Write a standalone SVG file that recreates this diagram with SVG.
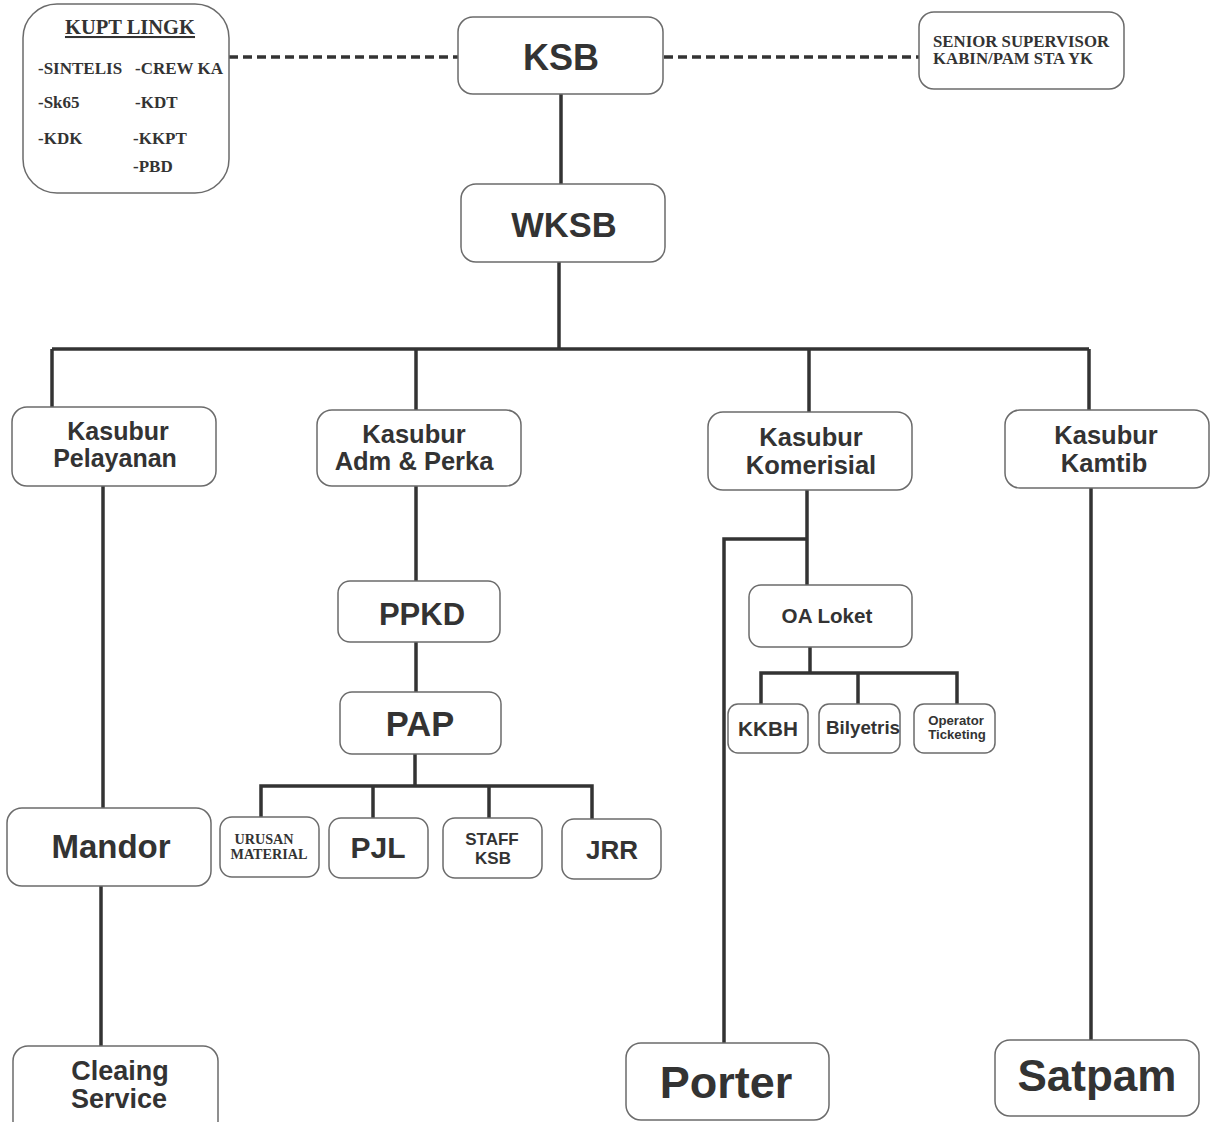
<svg xmlns="http://www.w3.org/2000/svg" width="1216" height="1122" viewBox="0 0 1216 1122">
<style>
.box{fill:#fff;stroke:#6b6b6b;stroke-width:1.5}
.ln{stroke:#333;stroke-width:3.5;fill:none}
.dash{stroke:#333;stroke-width:3.5;fill:none;stroke-dasharray:9 5}
.a{font-family:"Liberation Sans",Arial,sans-serif;font-weight:bold;fill:#333;text-anchor:middle}
.t{font-family:"Liberation Serif","Times New Roman",serif;font-weight:bold;fill:#333}
</style>
<rect width="1216" height="1122" fill="#fff"/>
<g id="connectors">
<path class="dash" d="M229 57H458"/>
<path class="dash" d="M664 57H919"/>
<path class="ln" d="M561 94V184"/>
<path class="ln" d="M559 262V349"/>
<path class="ln" d="M52 349H1089"/>
<path class="ln" d="M52 349V407"/>
<path class="ln" d="M416 349V410"/>
<path class="ln" d="M809 349V412"/>
<path class="ln" d="M1089 349V410"/>
<path class="ln" d="M103 486V808"/>
<path class="ln" d="M101 886V1046"/>
<path class="ln" d="M416 486V581"/>
<path class="ln" d="M416 642V692"/>
<path class="ln" d="M415 754V786"/>
<path class="ln" d="M261 817V786H592V819"/>
<path class="ln" d="M373 786V818"/>
<path class="ln" d="M489 786V818"/>
<path class="ln" d="M807 490V585"/>
<path class="ln" d="M807 539H724V1043"/>
<path class="ln" d="M810 647V673"/>
<path class="ln" d="M761 704V673H957V704"/>
<path class="ln" d="M858 673V704"/>
<path class="ln" d="M1091 488V1040"/>
</g>
<g id="kupt">
<rect class="box" x="23" y="4" width="206" height="189" rx="34"/>
<text class="t" x="130" y="34" font-size="20.5" text-anchor="middle" text-decoration="underline">KUPT LINGK</text>
<text class="t" x="38" y="74" font-size="17">-SINTELIS</text>
<text class="t" x="135" y="74" font-size="17">-CREW KA</text>
<text class="t" x="38" y="108" font-size="17">-Sk65</text>
<text class="t" x="135" y="108" font-size="17">-KDT</text>
<text class="t" x="38" y="144" font-size="17">-KDK</text>
<text class="t" x="133" y="144" font-size="17">-KKPT</text>
<text class="t" x="133" y="172" font-size="17">-PBD</text>
</g>
<g id="ksb">
<rect class="box" x="458" y="17" width="205" height="77" rx="15"/>
<text class="a" x="561" y="70" font-size="36">KSB</text>
</g>
<g id="senior">
<rect class="box" x="919" y="12" width="205" height="77" rx="15"/>
<text class="t" x="933" y="47" font-size="16.8">SENIOR SUPERVISOR</text>
<text class="t" x="933" y="64" font-size="16.8">KABIN/PAM STA YK</text>
</g>
<g id="wksb">
<rect class="box" x="461" y="184" width="204" height="78" rx="15"/>
<text class="a" x="564" y="237" font-size="34.5">WKSB</text>
</g>
<g id="pelayanan">
<rect class="box" x="12" y="407" width="204" height="79" rx="15"/>
<text class="a" x="118" y="440" font-size="25">Kasubur</text>
<text class="a" x="115" y="467" font-size="25">Pelayanan</text>
</g>
<g id="adm">
<rect class="box" x="317" y="410" width="204" height="76" rx="15"/>
<text class="a" x="414" y="443" font-size="25.5">Kasubur</text>
<text class="a" x="414" y="470" font-size="25.5">Adm &amp; Perka</text>
</g>
<g id="komerisial">
<rect class="box" x="708" y="412" width="204" height="78" rx="15"/>
<text class="a" x="811" y="446" font-size="25.5">Kasubur</text>
<text class="a" x="811" y="474" font-size="25.5">Komerisial</text>
</g>
<g id="kamtib">
<rect class="box" x="1005" y="410" width="204" height="78" rx="15"/>
<text class="a" x="1106" y="444" font-size="25.5">Kasubur</text>
<text class="a" x="1104" y="472" font-size="25.5">Kamtib</text>
</g>
<g id="ppkd">
<rect class="box" x="338" y="581" width="162" height="61" rx="12"/>
<text class="a" x="422" y="625" font-size="31">PPKD</text>
</g>
<g id="pap">
<rect class="box" x="340" y="692" width="161" height="62" rx="12"/>
<text class="a" x="420" y="736" font-size="34.5">PAP</text>
</g>
<g id="urusan">
<rect class="box" x="220" y="817" width="99" height="60" rx="12"/>
<text class="t" x="264" y="844" font-size="14.2" text-anchor="middle">URUSAN</text>
<text class="t" x="269" y="859" font-size="14.2" text-anchor="middle">MATERIAL</text>
</g>
<g id="pjl">
<rect class="box" x="329" y="818" width="99" height="60" rx="12"/>
<text class="a" x="378" y="858" font-size="30">PJL</text>
</g>
<g id="staff">
<rect class="box" x="443" y="818" width="99" height="60" rx="12"/>
<text class="a" x="492" y="845" font-size="17">STAFF</text>
<text class="a" x="493" y="864" font-size="17">KSB</text>
</g>
<g id="jrr">
<rect class="box" x="562" y="819" width="99" height="60" rx="12"/>
<text class="a" x="612" y="859" font-size="26">JRR</text>
</g>
<g id="oaloket">
<rect class="box" x="749" y="585" width="163" height="62" rx="12"/>
<text class="a" x="827" y="623" font-size="20.6">OA Loket</text>
</g>
<g id="kkbh">
<rect class="box" x="728" y="704" width="80" height="49" rx="10"/>
<text class="a" x="768" y="736" font-size="20.7">KKBH</text>
</g>
<g id="bilyetris">
<rect class="box" x="819" y="704" width="81" height="49" rx="10"/>
<text class="a" x="863" y="734" font-size="18.8">Bilyetris</text>
</g>
<g id="operator">
<rect class="box" x="914" y="704" width="81" height="49" rx="10"/>
<text class="a" x="956" y="725" font-size="13.2">Operator</text>
<text class="a" x="957" y="739" font-size="13.2">Ticketing</text>
</g>
<g id="mandor">
<rect class="box" x="7" y="808" width="204" height="78" rx="15"/>
<text class="a" x="111" y="858" font-size="33">Mandor</text>
</g>
<g id="cleaning">
<rect class="box" x="13" y="1046" width="205" height="90" rx="15"/>
<text class="a" x="120" y="1080" font-size="27">Cleaing</text>
<text class="a" x="119" y="1108" font-size="27">Service</text>
</g>
<g id="porter">
<rect class="box" x="626" y="1043" width="203" height="77" rx="15"/>
<text class="a" x="726" y="1098" font-size="45">Porter</text>
</g>
<g id="satpam">
<rect class="box" x="995" y="1040" width="204" height="76" rx="15"/>
<text class="a" x="1097" y="1091" font-size="44">Satpam</text>
</g>
</svg>
